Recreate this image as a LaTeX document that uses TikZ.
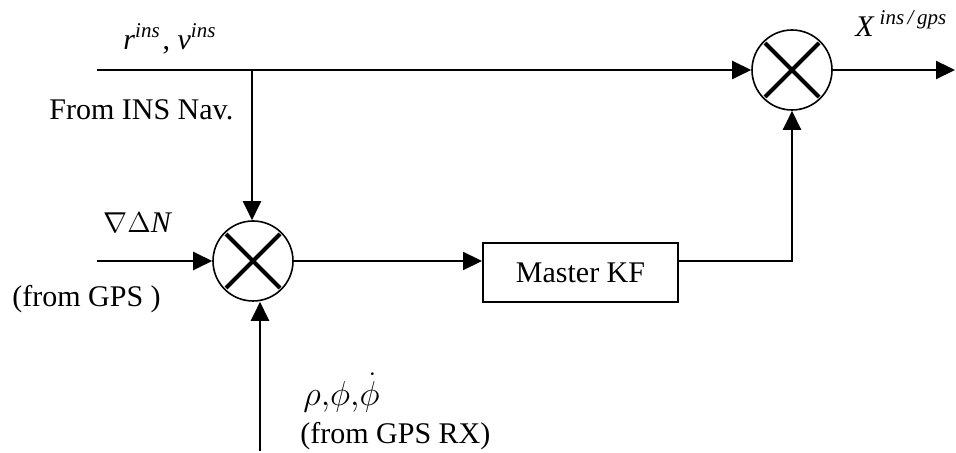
\documentclass[tikz,border=0pt]{standalone}
\usepackage{fontspec}
\setmainfont{Liberation Serif}
\usepackage{tikz}
\usetikzlibrary{arrows.meta, positioning}
\tikzset{
    sumnode/.style={circle, draw, line width=0.8pt, minimum size=40pt, inner sep=0pt,
        path picture={
            \draw[line width=2pt] ([shift={(-13.5pt,-13.5pt)}]path picture bounding box.center) -- ([shift={(13.5pt,13.5pt)}]path picture bounding box.center);
            \draw[line width=2pt] ([shift={(-13.5pt,13.5pt)}]path picture bounding box.center) -- ([shift={(13.5pt,-13.5pt)}]path picture bounding box.center);
        }},
    kfbox/.style={rectangle, draw, line width=1pt, minimum width=97.5pt, minimum height=29.5pt,
        inner sep=0pt, font=\fontsize{15}{18}\selectfont},
    lbl/.style={anchor=base west, inner sep=0pt, font=\fontsize{15}{18}\selectfont},
    arrow/.style={-{Triangle[length=9.5pt, width=9pt]}, line width=1.1pt}
}
\newcommand{\supit}[1]{\raisebox{0.42em}{\fontsize{10.5}{12}\selectfont\itshape #1}}

\begin{document}
\begin{tikzpicture}[x=0.5pt, y=-0.5pt]
    \useasboundingbox (0,0) rectangle (956,453);

    % summing junctions and filter
    \node[sumnode] (sumL) at (253,261) {};
    \node[sumnode] (sumR) at (792,70) {};
    \node[kfbox] (kf) at (580.5,272.5) {Master KF};

    % free ends
    \coordinate (insin) at (97,70);
    \coordinate (tap) at (252,70);
    \coordinate (gpsin) at (97,261);
    \coordinate (rxin) at (260,451);
    \coordinate (outp) at (955,70);

    % labels
    \node[lbl] (rv) at (123,50) {\textit{r}\supit{ins}\kern1.5pt, \textit{v}\supit{ins}};
    \node[lbl] (insnav) at (49,120) {From INS Nav.};
    \node[lbl] (ddn) at (103,233) {$\nabla\Delta$\textit{N}};
    \node[lbl] (fromgps) at (12,307) {(from GPS )};
    \node[lbl, font=\fontsize{17}{20}\selectfont] (obs) at (303,405) {$\rho{,}\phi{,}\dot{\phi}$};
    \node[lbl] (fromrx) at (300,443) {(from GPS RX)};
    \node[lbl] (xout) at (855,37) {\textit{X}\,\supit{ins\,/\,gps}};

    \draw[arrow] (insin) -- (sumR.west);
    \draw[arrow] (tap) -- (tap |- sumL.north);
    \draw[arrow] (gpsin) -- (sumL.west);
    \draw[arrow] (rxin) -- (rxin |- sumL.south);
    \draw[arrow] (sumL.east) -- (sumL.east -| kf.west);
    \draw[arrow] (kf.east |- sumL.east) -| (sumR.south);
    \draw[arrow] (sumR.east) -- (outp);

\end{tikzpicture}
\end{document}
